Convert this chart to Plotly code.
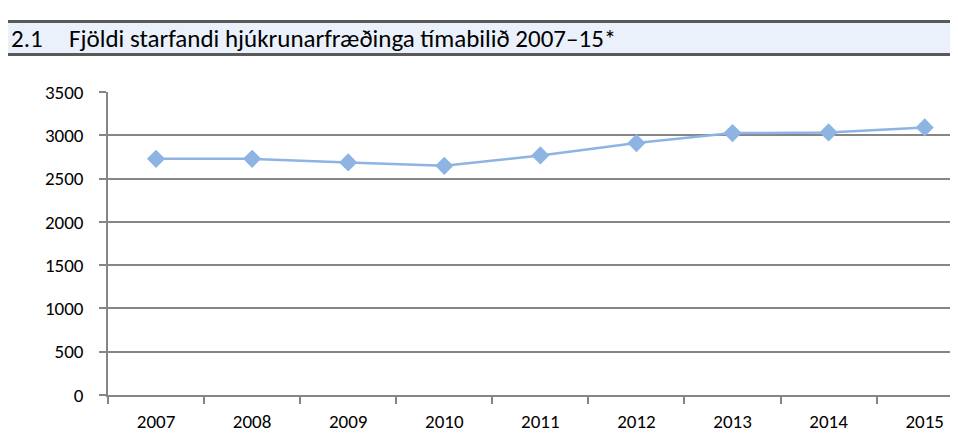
import plotly.graph_objects as go

years = ["2007", "2008", "2009", "2010", "2011", "2012", "2013", "2014", "2015"]
nurses = [2728, 2728, 2686, 2647, 2767, 2910, 3025, 3033, 3091]
y_ticks = [0, 500, 1000, 1500, 2000, 2500, 3000, 3500]
header_number = "2.1"
header_title = "Fjöldi starfandi hjúkrunarfræðinga tímabilið 2007–15*"

W, H = 958, 441
L, R, T, B = 100, 0, 84, 54
PW, PH = W - L - R, H - T - B

def px(x):
    return (x - L) / PW

def py(y):
    return (H - B - y) / PH

FONT = "Carlito, Calibri, Lato, sans-serif"
GRID = "#868686"

fig = go.Figure()
fig.add_trace(go.Scatter(
    x=years, y=nurses, mode="lines+markers",
    line=dict(color="#8db4e2", width=2.5),
    marker=dict(symbol="diamond", size=14, color="#8db4e2"),
    hoverinfo="x+y", showlegend=False,
))

shapes = [
    dict(type="rect", xref="paper", yref="paper", x0=px(0), x1=px(958), y0=py(48), y1=py(12),
         fillcolor="#eaf1fa", line=dict(width=0), layer="below"),
    dict(type="rect", xref="paper", yref="paper", x0=px(0), x1=px(958), y0=py(15), y1=py(12),
         fillcolor="#595959", line=dict(width=0)),
    dict(type="rect", xref="paper", yref="paper", x0=px(0), x1=px(958), y0=py(48), y1=py(45),
         fillcolor="#595959", line=dict(width=0)),
]

annotations = [
    dict(text=header_number, xref="paper", yref="paper", x=px(1), y=py(30),
         xanchor="left", yanchor="middle", showarrow=False,
         font=dict(family=FONT, size=25, color="#000000")),
    dict(text=header_title, xref="paper", yref="paper", x=px(59), y=py(30),
         xanchor="left", yanchor="middle", showarrow=False,
         font=dict(family=FONT, size=25, color="#000000")),
]

fig.update_layout(
    width=W, height=H,
    margin=dict(l=L, r=R, t=T, b=B, pad=0),
    paper_bgcolor="white", plot_bgcolor="white",
    shapes=shapes, annotations=annotations,
    font=dict(family=FONT, size=19, color="#000000"),
    xaxis=dict(
        type="category", range=[-0.5, 8.43],
        showgrid=False, showline=True, linecolor=GRID, linewidth=1.5,
        ticks="outside", tickson="boundaries", ticklen=7, tickcolor=GRID, tickwidth=1.5,
        tickfont=dict(family=FONT, size=19), ticklabelstandoff=8,
    ),
    yaxis=dict(
        range=[0, 3500], tickvals=y_ticks, ticktext=[str(v) for v in y_ticks],
        showgrid=True, gridcolor=GRID, gridwidth=1.5,
        showline=True, linecolor=GRID, linewidth=1.5, zeroline=False,
        ticks="outside", ticklen=7, tickcolor=GRID, tickwidth=1.5,
        tickfont=dict(family=FONT, size=19), ticklabelstandoff=12,
    ),
)

fig.write_html("out.html")
